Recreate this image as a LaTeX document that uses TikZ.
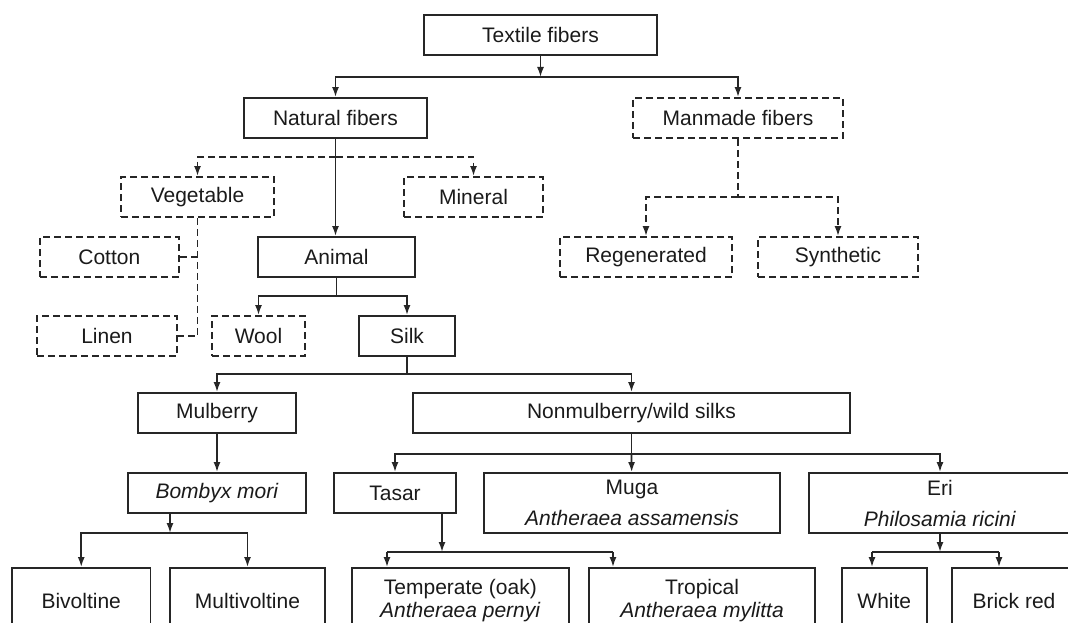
\documentclass[tikz,border=0pt]{standalone}
\usepackage{fontspec}
\setmainfont{Liberation Sans}
\usetikzlibrary{arrows.meta}
\definecolor{ln}{HTML}{262626}
\definecolor{txt}{HTML}{1A1A1A}
\begin{document}
\begin{tikzpicture}[x=1pt,y=-1pt,
  box/.style={draw=ln, line width=1.9pt, rectangle, inner sep=0pt, minimum height=40pt,
    align=center, font=\fontsize{21}{25}\selectfont, text=txt},
  dbox/.style={box, dash pattern=on 7pt off 4pt},
  con/.style={draw=ln, line width=1.7pt},
  arr/.style={con, -{Latex[length=10pt,width=7pt]}},
  dcon/.style={con, dash pattern=on 7pt off 4pt},
  darr/.style={arr, dash pattern=on 7pt off 4pt},
]
\useasboundingbox (0,0) rectangle (1068,623);
\clip (0,0) rectangle (1068,623);

% level 0-1
\node[box, minimum width=233pt] (tex) at (540.5,35) {Textile fibers};
\node[box, minimum width=183pt] (nat) at (335.5,118) {Natural fibers};
\node[dbox, minimum width=210pt] (man) at (738,118) {Manmade fibers};
% level 2
\node[dbox, minimum width=153pt] (veg) at (197.5,197) {Vegetable};
\node[dbox, minimum width=139pt] (min) at (473.5,197) {Mineral};
\node[dbox, minimum width=172pt] (reg) at (646,257) {Regenerated};
\node[dbox, minimum width=160pt] (syn) at (838,257) {Synthetic};
\node[dbox, minimum width=139pt] (cot) at (109.3,257) {Cotton};
\node[box, minimum width=157pt] (ani) at (336.5,257) {Animal};
\node[dbox, minimum width=140pt] (lin) at (107,336) {Linen};
\node[dbox, minimum width=93pt] (wool) at (258.5,336) {Wool};
\node[box, minimum width=95.5pt] (silk) at (407,336) {Silk};
% silk
\node[box, minimum width=158pt] (mul) at (217,413) {Mulberry};
\node[box, minimum width=437pt] (non) at (631.5,413) {Nonmulberry/wild silks};
\node[box, minimum width=178.5pt] (bom) at (217,493) {\textit{Bombyx mori}};
\node[box, minimum width=122pt] (tas) at (395,493) {Tasar};
\node[box, minimum width=296pt, minimum height=60pt] (muga) at (632,503) {Muga\\[6pt]\textit{Antheraea assamensis}};
\node[box, minimum width=262pt, minimum height=60pt] (eri) at (940,503) {Eri\\[6pt]\textit{Philosamia ricini}};
% bottom row
\node[box, minimum width=138.5pt, minimum height=65pt] (biv) at (81.25,600.5) {Bivoltine};
\node[box, minimum width=155pt, minimum height=65pt] (mvt) at (247.5,600.5) {Multivoltine};
\node[box, minimum width=217.3pt, minimum height=65pt, font=\fontsize{21}{23}\selectfont] (tem) at (460.35,600.5) {Temperate (oak)\\\textit{Antheraea pernyi}};
\node[box, minimum width=226pt, minimum height=65pt, font=\fontsize{21}{23}\selectfont] (tro) at (702,600.5) {Tropical\\\textit{Antheraea mylitta}};
\node[box, minimum width=85.4pt, minimum height=65pt] (whi) at (884.3,600.5) {White};
\node[box, minimum width=124.6pt, minimum height=65pt] (bri) at (1014,600.5) {Brick red};

% junctions
\coordinate (j1) at (540.5,77);
\coordinate (j2) at (336,157);
\coordinate (j3) at (738,197);
\coordinate (j4) at (336.5,296);
\coordinate (j5) at (407,374);
\coordinate (j6) at (170,533);
\coordinate (j7) at (631.5,454);
\coordinate (j8) at (442,552);
\coordinate (ta) at (387,552);
\coordinate (tb) at (613,552);
\coordinate (j9) at (940,552);
\coordinate (wa) at (872,552);
\coordinate (wb) at (999,552);

% connectors
\draw[arr] (tex.south) -- (j1);
\draw[arr] (j1) -| (nat);
\draw[arr] (j1) -| (man);

\draw[arr] (nat.south) -- (nat.south |- ani.north);
\draw[darr] (j2) -| (veg);
\draw[darr] (j2) -| (min);

\draw[dcon] (man.south) -- (j3);
\draw[darr] (j3) -| (reg);
\draw[darr] (j3) -| (syn);

\draw[dcon] (veg.south) |- (lin.east);
\draw[dcon] (cot.east) -- (cot.east -| veg.south);

\draw[con] (ani) -- (j4);
\draw[arr] (j4) -| (wool);
\draw[arr] (j4) -| (silk);

\draw[con] (silk) -- (j5);
\draw[arr] (j5) -| (mul);
\draw[arr] (j5) -| (non);

\draw[arr] (mul) -- (bom);
\draw[arr] (bom.south -| j6) -- (j6);
\draw[arr] (j6) -| (biv);
\draw[arr] (j6) -| (mvt);

\draw[con] (non) -- (j7);
\draw[arr] (j7) -| (tas);
\draw[arr] (j7) -- (muga);
\draw[arr] (j7) -| (eri);

\draw[arr] (tas.south -| j8) -- (j8);
\draw[con] (ta) -- (tb);
\draw[arr] (ta) -- (ta |- tem.north);
\draw[arr] (tb) -- (tb |- tro.north);

\draw[arr] (eri.south -| j9) -- (j9);
\draw[con] (wa) -- (wb);
\draw[arr] (wa) -- (wa |- whi.north);
\draw[arr] (wb) -- (wb |- bri.north);
\end{tikzpicture}
\end{document}
